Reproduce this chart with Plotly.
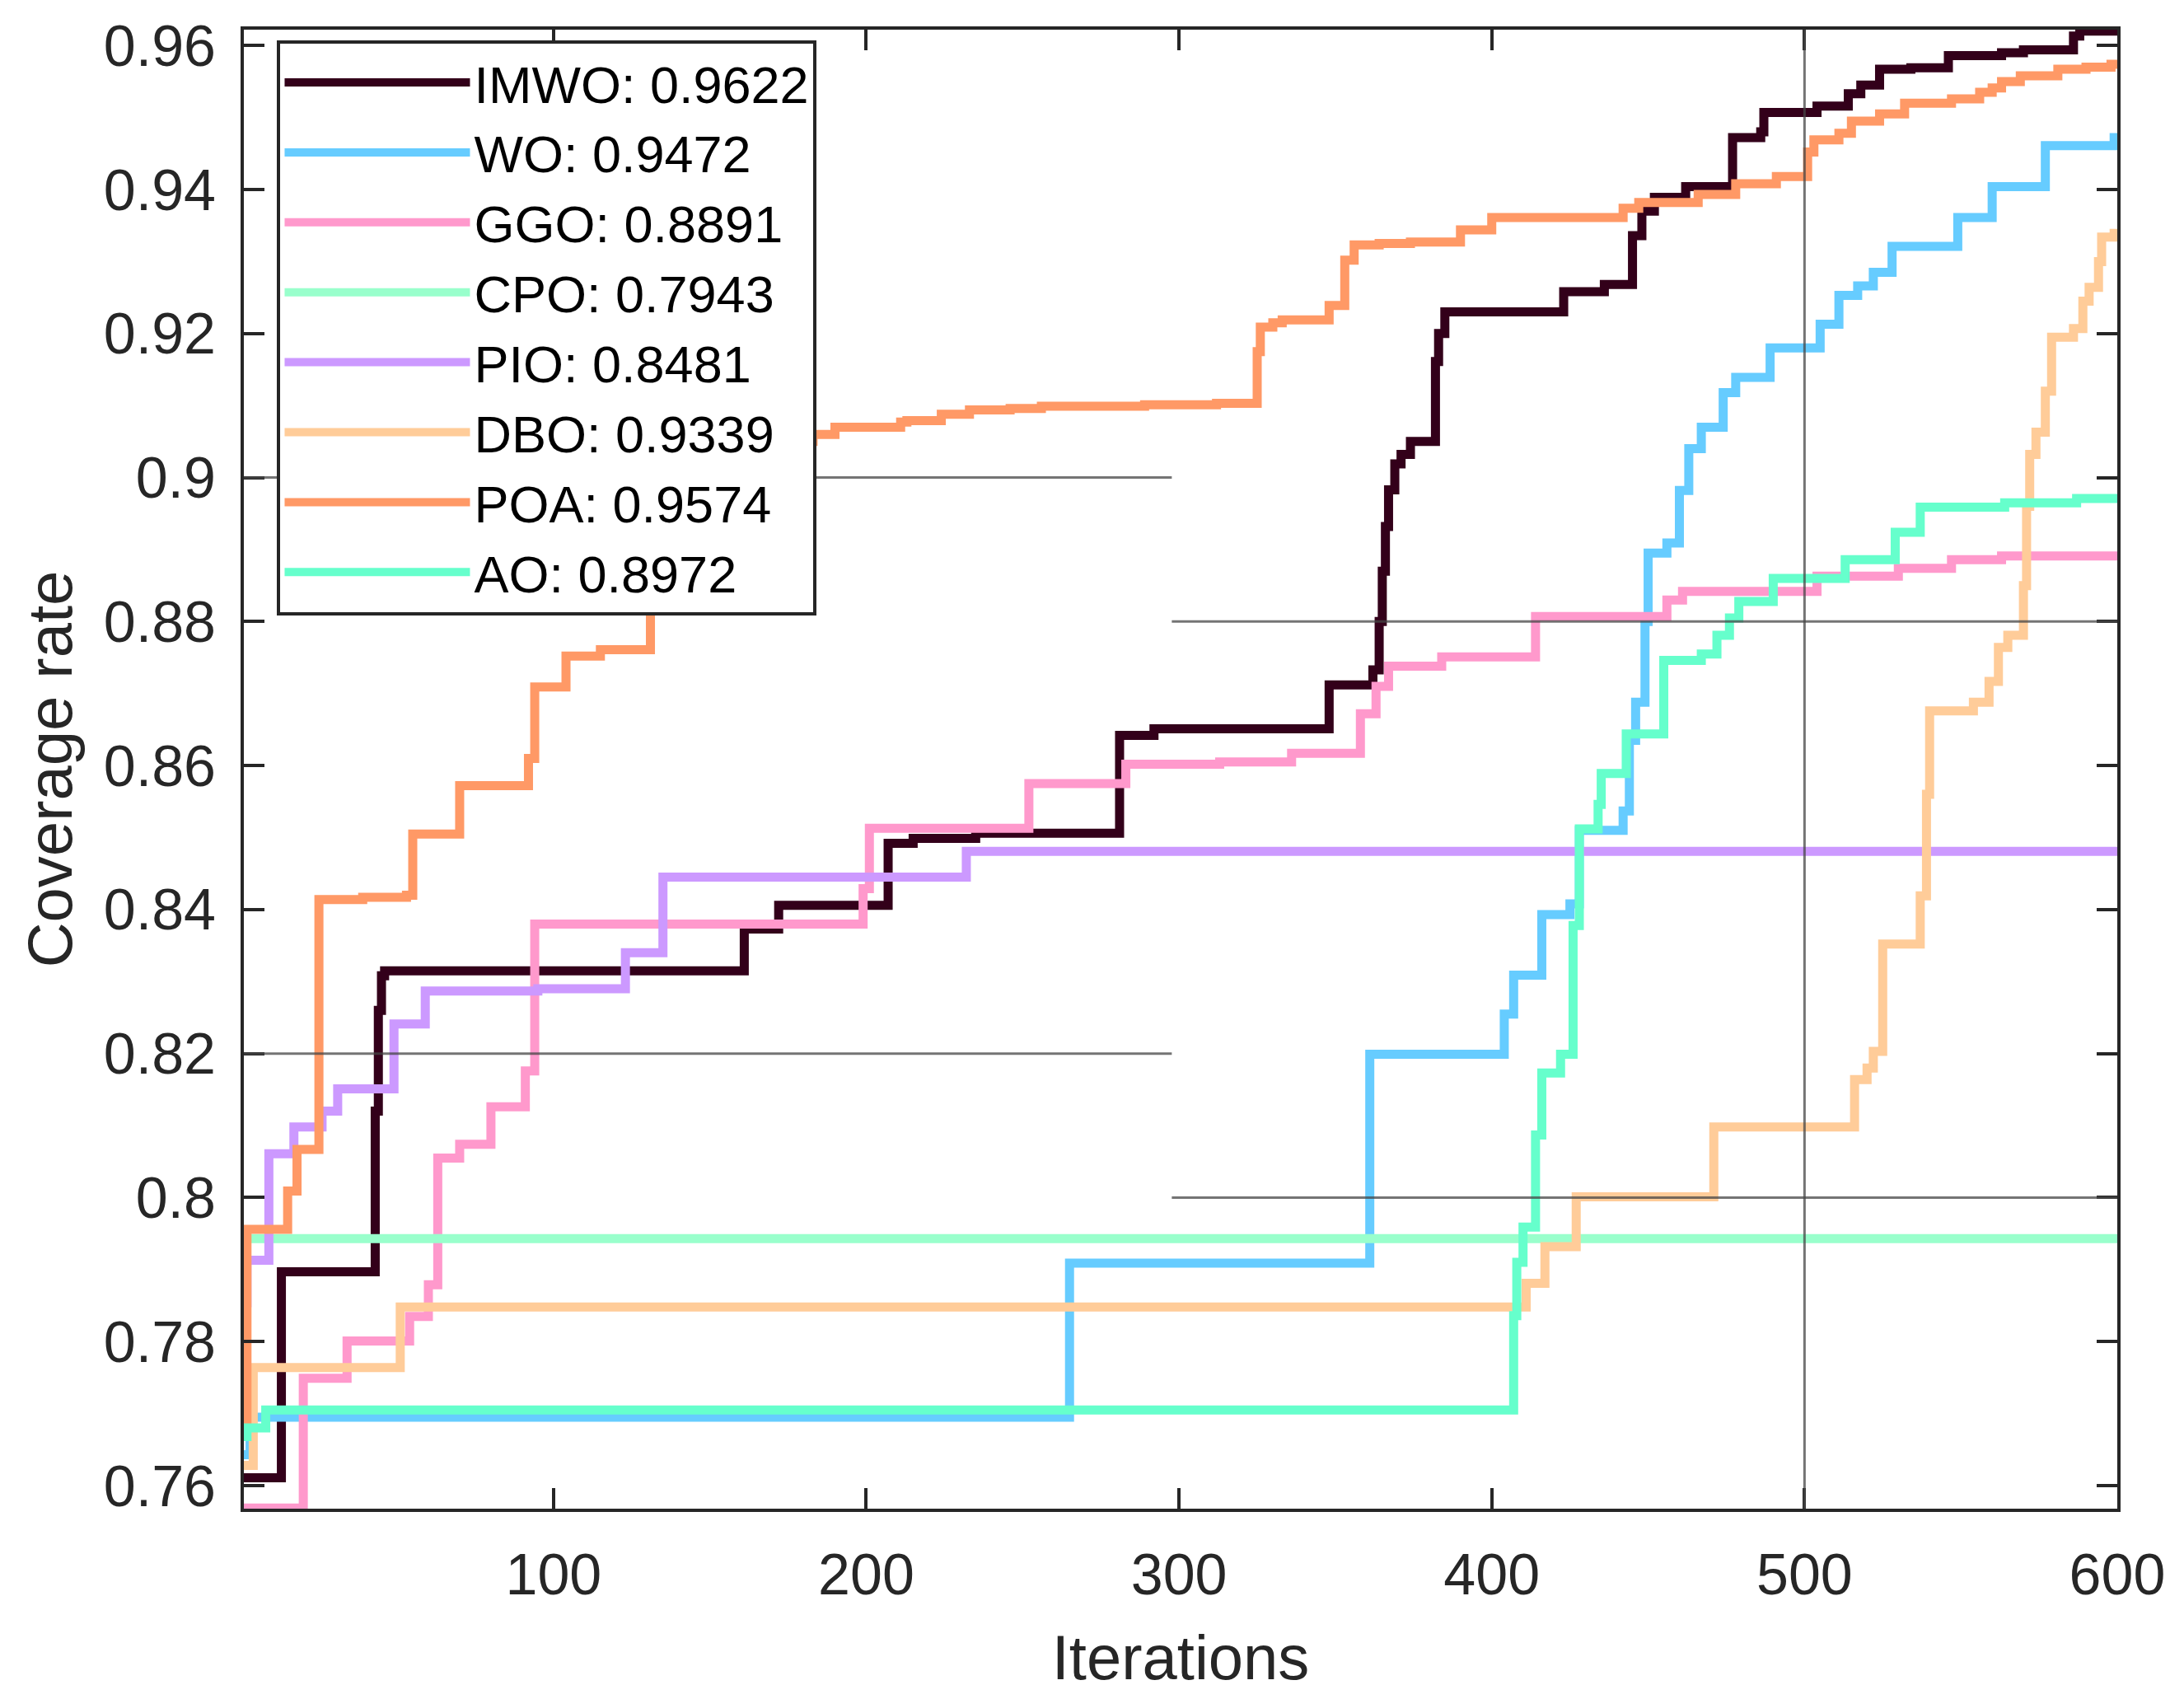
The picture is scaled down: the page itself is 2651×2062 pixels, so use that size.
import plotly.graph_objects as go

# ---------------- data ----------------
imwo_it = [1, 13, 43, 44, 45, 46, 161, 172, 207, 215, 235, 281, 292, 348, 362, 364, 365, 366, 367, 369, 371, 374,
           382, 383, 385, 423, 436, 445, 448, 452, 462, 477, 486, 487, 504, 514, 518, 524, 534, 546, 563, 570,
           586, 588, 600]
imwo_val = [0.7611, 0.7897, 0.8120, 0.8260, 0.8308, 0.8315, 0.8373, 0.8406, 0.8492, 0.8499, 0.8506, 0.8642,
            0.8651, 0.8712, 0.8733, 0.8800, 0.8870, 0.8932, 0.8983, 0.9019, 0.9032, 0.9050, 0.9161, 0.9200,
            0.9230, 0.9258, 0.9268, 0.9336, 0.9370, 0.9389, 0.9404, 0.9472, 0.9480, 0.9507, 0.9516, 0.9533,
            0.9545, 0.9567, 0.9569, 0.9586, 0.9590, 0.9594, 0.9613, 0.9620, 0.9622]

wo_it = [1, 3, 265, 361, 404, 407, 416, 425, 428, 442, 444, 446, 449, 450, 456, 460, 463, 467, 474, 478, 489,
         505, 511, 517, 522, 528, 549, 560, 577, 599, 600]
wo_val = [0.7643, 0.7695, 0.7909, 0.8199, 0.8255, 0.8309, 0.8393, 0.8408, 0.8510, 0.8537, 0.8635, 0.8688,
          0.8800, 0.8895, 0.8909, 0.8982, 0.9040, 0.9070, 0.9118, 0.9139, 0.9180, 0.9213, 0.9253, 0.9266,
          0.9285, 0.9321, 0.9361, 0.9404, 0.9461, 0.9472, 0.9472]

ggo_it = [1, 20, 34, 54, 60, 63, 70, 80, 91, 94, 199, 201, 252, 283, 313, 336, 358, 363, 367, 384, 414, 456,
          461, 504, 530, 547, 563, 600]
ggo_val = [0.7569, 0.7749, 0.7801, 0.7835, 0.7879, 0.8055, 0.8074, 0.8126, 0.8176, 0.8380, 0.8429, 0.8513,
           0.8575, 0.8602, 0.8605, 0.8617, 0.8672, 0.8710, 0.8738, 0.8751, 0.8807, 0.8830, 0.8842, 0.8863,
           0.8874, 0.8886, 0.8891, 0.8891]

cpo_it = [1, 600]
cpo_val = [0.7943, 0.7943]

pio_it = [1, 2, 9, 17, 26, 31, 49, 59, 95, 123, 135, 232, 600]
pio_val = [0.7854, 0.7913, 0.8061, 0.8098, 0.8120, 0.8151, 0.8241, 0.8287, 0.8290, 0.8340, 0.8445, 0.8481,
           0.8481]

dbo_it = [1, 4, 51, 411, 417, 427, 471, 516, 520, 522, 525, 537, 539, 540, 554, 559, 562, 565, 570, 571, 572,
          574, 577, 579, 586, 589, 591, 594, 595, 599, 600]
dbo_val = [0.7628, 0.7764, 0.7848, 0.7881, 0.7932, 0.8001, 0.8098, 0.8164, 0.8180, 0.8203, 0.8352, 0.8419,
           0.8560, 0.8676, 0.8688, 0.8717, 0.8764, 0.8781, 0.8850, 0.8960, 0.9032, 0.9063, 0.9120, 0.9195,
           0.9207, 0.9245, 0.9264, 0.9300, 0.9334, 0.9339, 0.9339]

poa_it = [1, 2, 15, 18, 25, 39, 53, 55, 70, 92, 94, 104, 115, 131, 140, 150, 162, 175, 183, 190, 211, 213,
          224, 233, 246, 256, 289, 312, 325, 326, 330, 333, 348, 353, 356, 364, 374, 390, 400, 442, 447, 466,
          478, 491, 501, 503, 511, 515, 524, 532, 547, 556, 560, 563, 569, 581, 590, 598, 600]
poa_val = [0.7687, 0.7956, 0.8009, 0.8067, 0.8414, 0.8417, 0.8420, 0.8505, 0.8572, 0.8610, 0.8709, 0.8752,
           0.8761, 0.8840, 0.8900, 0.8970, 0.9020, 0.9050, 0.9060, 0.9070, 0.9077, 0.9079, 0.9088, 0.9094,
           0.9096, 0.9099, 0.9101, 0.9103, 0.9175, 0.9209, 0.9215, 0.9219, 0.9239, 0.9302, 0.9323, 0.9325,
           0.9327, 0.9344, 0.9361, 0.9374, 0.9382, 0.9393, 0.9408, 0.9418, 0.9452, 0.9469, 0.9478, 0.9495,
           0.9505, 0.9520, 0.9526, 0.9535, 0.9541, 0.9550, 0.9558, 0.9567, 0.9570, 0.9574, 0.9574]

ao_it = [1, 2, 8, 407, 408, 410, 414, 416, 422, 426, 428, 434, 435, 443, 455, 467, 472, 476, 479, 490, 513,
         529, 537, 564, 587, 600]
ao_val = [0.7668, 0.7680, 0.7705, 0.7836, 0.7910, 0.7959, 0.8087, 0.8173, 0.8199, 0.8378, 0.8512, 0.8546,
          0.8589, 0.8644, 0.8746, 0.8755, 0.8781, 0.8805, 0.8828, 0.8860, 0.8886, 0.8924, 0.8959, 0.8965,
          0.8971, 0.8972]

names = ["IMWO: 0.9622", "WO: 0.9472", "GGO: 0.8891", "CPO: 0.7943",
         "PIO: 0.8481", "DBO: 0.9339", "POA: 0.9574", "AO: 0.8972"]
colors = ["#33001A", "#66CCFF", "#FF99CC", "#99FFCC", "#CC99FF", "#FFCC99", "#FF9966", "#66FFCC"]
series_it = [imwo_it, wo_it, ggo_it, cpo_it, pio_it, dbo_it, poa_it, ao_it]
series_val = [imwo_val, wo_val, ggo_val, cpo_val, pio_val, dbo_val, poa_val, ao_val]

x_ticks = [100, 200, 300, 400, 500, 600]
x_labels = ["100", "200", "300", "400", "500", "600"]
y_ticks = [0.76, 0.78, 0.80, 0.82, 0.84, 0.86, 0.88, 0.90, 0.92, 0.94, 0.96]
y_labels = ["0.76", "0.78", "0.8", "0.82", "0.84", "0.86", "0.88", "0.9", "0.92", "0.94", "0.96"]
x_range = [1, 600]
y_range = [0.7568, 0.9622]

# stray grid-line fragments visible in the reference (x0, x1, y0, y1)
grid_segments = [(1, 297.7, 0.90, 0.90), (1, 297.7, 0.82, 0.82),
                 (297.7, 600, 0.88, 0.88), (297.7, 600, 0.80, 0.80),
                 (500, 500, 0.7568, 0.9622)]

# ---------------- figure ----------------
FONT = "Liberation Sans, Arial, Helvetica, sans-serif"
AX = "#262626"

fig = go.Figure()
for it, val, nm, col in zip(series_it, series_val, names, colors):
    fig.add_trace(go.Scatter(x=it, y=val, mode="lines", name=nm,
                             line=dict(color=col, width=11, shape="hv")))

for x0, x1, y0, y1 in grid_segments:
    fig.add_shape(type="line", xref="x", yref="y", x0=x0, x1=x1, y0=y0, y1=y1,
                  line=dict(color="rgba(70,70,70,0.75)", width=3), layer="above")

fig.update_layout(
    width=2635, height=2046,
    margin=dict(l=288, r=73, t=28, b=223),
    paper_bgcolor="white", plot_bgcolor="white",
    font=dict(family=FONT, color=AX),
    showlegend=True,
    legend=dict(x=0.0178, y=0.993, xanchor="left", yanchor="top",
                bgcolor="white", bordercolor=AX, borderwidth=4,
                font=dict(family=FONT, size=63, color="black"),
                itemwidth=225, tracegroupgap=0, traceorder="normal"),
)
fig.update_xaxes(range=x_range, tickmode="array", tickvals=x_ticks, ticktext=x_labels,
                 automargin=False,
                 showgrid=False, zeroline=False, showline=True, linecolor=AX, linewidth=4,
                 mirror="ticks", ticks="inside", ticklen=25, tickwidth=4, tickcolor=AX,
                 ticklabelstandoff=16,
                 tickfont=dict(family=FONT, size=70, color=AX),
                 title=dict(text="Iterations", font=dict(family=FONT, size=76, color=AX), standoff=38))
fig.update_yaxes(range=y_range, tickmode="array", tickvals=y_ticks, ticktext=y_labels,
                 automargin=False,
                 showgrid=False, zeroline=False, showline=True, linecolor=AX, linewidth=4,
                 mirror="ticks", ticks="inside", ticklen=25, tickwidth=4, tickcolor=AX,
                 ticklabelstandoff=16,
                 tickfont=dict(family=FONT, size=70, color=AX),
                 title=dict(text="Coverage rate", font=dict(family=FONT, size=76, color=AX), standoff=14))

fig.write_html("out.html")
